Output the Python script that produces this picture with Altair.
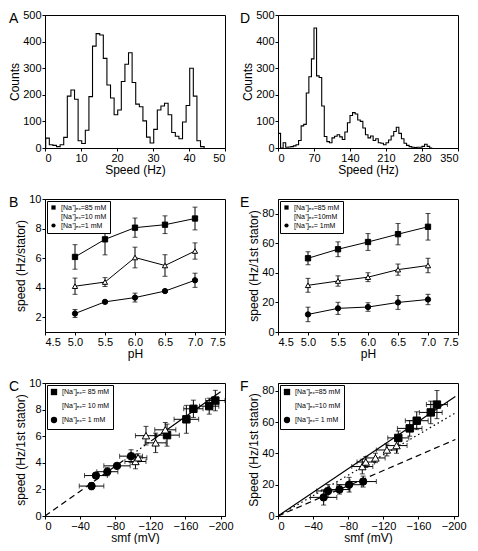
import altair as alt
import pandas as pd

FONT = "Liberation Sans"
W, H = 180, 133

# ---------------- Panel A (histogram, 1 Hz bins) ----------------
A_start = 0.2
A_width = 1.0
A_counts = [37, 12, 10, 5, 12, 40, 195, 218, 183, 27, 17, 67, 193, 383, 430, 425,
            337, 237, 188, 125, 143, 250, 315, 358, 246, 165, 155, 102, 41, 19,
            70, 143, 158, 168, 125, 58, 44, 35, 98, 160, 300, 195, 27, 5]

# ---------------- Panel D (histogram, 5 Hz bins) ----------------
D_start = 0.0
D_width = 5.0
D_counts = [55, 0, 20, 3, 4, 5, 8, 12, 28, 83, 89, 207, 268, 335, 451, 271, 265, 158,
            43, 24, 20, 38, 44, 50, 42, 32, 60, 95, 122, 133, 128, 105, 100, 75, 50,
            38, 45, 28, 35, 20, 18, 12, 20, 30, 45, 62, 78, 55, 35, 18, 10, 5, 3, 2,
            3, 3, 6, 14, 6, 0]

# ---------------- Panels B / E (speed vs pH) ----------------
pH = [5.0, 5.5, 6.0, 6.5, 7.0]
B_groups = ["[Na⁺]ₑₓ=85 mM", "[Na⁺]ₑₓ=10 mM", "[Na⁺]ₑₓ=1 mM"]
B_85 = [6.08, 7.27, 8.06, 8.26, 8.68]
B_85_err = [0.83, 1.05, 0.65, 0.60, 0.77]
B_10 = [4.10, 4.38, 6.04, 5.50, 6.48]
B_10_err = [0.55, 0.30, 0.70, 0.73, 0.55]
B_1 = [2.25, 3.04, 3.33, 3.77, 4.50]
B_1_err = [0.27, 0.08, 0.30, 0.08, 0.48]

E_groups = ["[Na⁺]ₑₓ=85 mM", "[Na⁺]ₑₓ=10mM", "[Na⁺]ₑₓ= 1mM"]
E_85 = [49.9, 56.0, 60.9, 66.2, 71.2]
E_85_err = [4.4, 5.0, 5.7, 7.2, 9.0]
E_10 = [31.6, 34.5, 37.1, 42.2, 45.0]
E_10_err = [4.7, 3.5, 3.0, 3.8, 4.9]
E_1 = [11.9, 16.0, 16.9, 20.0, 22.0]
E_1_err = [4.9, 4.1, 2.9, 4.7, 3.5]

# ---------------- Panels C / F (speed vs smf) ----------------
C_groups = ["[Na⁺]ₑₓ= 85 mM", "[Na⁺]ₑₓ= 10 mM", "[Na⁺]ₑₓ=  1 mM"]
C_smf_85 = [-139, -161, -169, -187, -194]
C_smf_85_err = [14, 14, 11, 11, 11]
C_smf_10 = [-103, -106, -115, -126, -137]
C_smf_10_err = [12, 10, 12, 12, 12]
C_smf_1 = [-53, -58, -71, -82, -98]
C_smf_1_err = [14, 13, 12, 15, 13]
C_fit_dash_x = [0, -100]
C_fit_dash_y = [0, 4.67]
C_fit_dot_x = [-100, -122]
C_fit_dot_y = [4.67, 5.70]
C_fit_solid_x = [-122, -200]
C_fit_solid_y = [5.70, 9.34]

F_groups = ["[Na⁺]ₑₓ=85 mM", "[Na⁺]ₑₓ=10 mM", "[Na⁺]ₑₓ=  1 mM"]
F_smf_85 = [-137, -150, -158, -174, -181]
F_smf_85_err = [12, 14, 13, 13, 12]
F_smf_10 = [-96, -100, -111, -124, -135]
F_smf_10_err = [12, 10, 11, 12, 12]
F_smf_1 = [-52, -57, -70, -81, -97]
F_smf_1_err = [15, 13, 12, 14, 15]
F_fit_solid_x = [0, -202]
F_fit_solid_y = [0, 76.3]
F_fit_dot_x = [0, -202]
F_fit_dot_y = [0, 65.8]
F_fit_dash_x = [0, -202]
F_fit_dash_y = [0, 48.9]

SHAPES = ["square", "triangle-up", "circle"]
FILLS = ["black", "white", "black"]


def letter_mark(ch, dx, dy=-3):
    return alt.Chart(pd.DataFrame({"t": [ch]})).mark_text(
        align="left", baseline="top", fontSize=14, font=FONT, color="black"
    ).encode(text="t:N", x=alt.value(dx), y=alt.value(dy))


def hist_panel(start, width, counts, letter, lx, xdom, xvals):
    xs = [start]
    ys = [0]
    for i, c in enumerate(counts):
        xs.append(start + i * width)
        ys.append(c)
    xs.append(start + len(counts) * width)
    ys.append(0)
    df = pd.DataFrame({"speed": xs, "counts": ys, "order": list(range(len(xs)))})
    line = alt.Chart(df).mark_line(
        interpolate="step-after", color="black", strokeWidth=1.1, clip=True
    ).encode(
        x=alt.X("speed:Q", scale=alt.Scale(domain=xdom, nice=False, zero=False),
                axis=alt.Axis(values=xvals), title="Speed (Hz)"),
        y=alt.Y("counts:Q", scale=alt.Scale(domain=[0, 500], nice=False),
                axis=alt.Axis(values=[0, 100, 200, 300, 400, 500]), title="Counts"),
        order="order:Q",
    )
    return alt.layer(line, letter_mark(letter, lx)).properties(width=W, height=H)


def make_df(groups, xs_list, ys_list, yerr_list, xerr_list=None):
    rows = []
    for gi, g in enumerate(groups):
        for i in range(len(xs_list[gi])):
            x = xs_list[gi][i]
            y = ys_list[gi][i]
            e = yerr_list[gi][i]
            xe = xerr_list[gi][i] if xerr_list is not None else 0
            rows.append(dict(g=g, x=x, y=y, ylo=y - e, yhi=y + e, xlo=x - xe, xhi=x + xe))
    return pd.DataFrame(rows)


def xy_panel(df, groups, letter, lx, xdom, xvals, xtitle, xfmt, ydom, yvals, ytitle,
             msize, legsym, legfont, legrow, connect, xerr, fits):
    xscale = alt.Scale(domain=xdom, nice=False, zero=False)
    yscale = alt.Scale(domain=ydom, nice=False, zero=False)
    xax_kw = dict(values=xvals)
    if xfmt:
        xax_kw["format"] = xfmt
    xax = alt.Axis(**xax_kw)
    yax = alt.Axis(values=yvals)

    def X(f):
        return alt.X(f, type="quantitative", scale=xscale, axis=xax, title=xtitle)

    def Y(f):
        return alt.Y(f, type="quantitative", scale=yscale, axis=yax, title=ytitle)

    base = alt.Chart(df)
    layers = []
    for fx, fy, dash in fits:
        fdf = pd.DataFrame({"x": fx, "y": fy})
        kw = dict(color="black", strokeWidth=1.2, clip=True)
        if dash:
            kw["strokeDash"] = dash
        layers.append(alt.Chart(fdf).mark_line(**kw).encode(x=X("x"), y=Y("y")))
    layers.append(base.mark_rule(color="black", strokeWidth=1).encode(
        x=X("x"), y=Y("ylo"), y2="yhi"))
    layers.append(base.mark_tick(orient="horizontal", size=5, thickness=1, color="black").encode(
        x=X("x"), y=Y("ylo")))
    layers.append(base.mark_tick(orient="horizontal", size=5, thickness=1, color="black").encode(
        x=X("x"), y=Y("yhi")))
    if xerr:
        layers.append(base.mark_rule(color="black", strokeWidth=1).encode(
            x=X("xlo"), x2="xhi", y=Y("y")))
        layers.append(base.mark_tick(orient="vertical", size=5, thickness=1, color="black").encode(
            x=X("xlo"), y=Y("y")))
        layers.append(base.mark_tick(orient="vertical", size=5, thickness=1, color="black").encode(
            x=X("xhi"), y=Y("y")))
    if connect:
        layers.append(base.mark_line(color="black", strokeWidth=1).encode(
            x=X("x"), y=Y("y"), detail="g:N"))
    leg = alt.Legend(title=None, orient="top-left", offset=2, padding=3,
                     strokeColor="black", fillColor="white", labelFontSize=legfont,
                     labelFont=FONT, symbolSize=legsym, rowPadding=legrow,
                     symbolStrokeColor="black", symbolStrokeWidth=1, labelColor="black")
    layers.append(base.mark_point(filled=True, stroke="black", strokeWidth=1,
                                  size=msize, opacity=1).encode(
        x=X("x"), y=Y("y"),
        shape=alt.Shape("g:N", scale=alt.Scale(domain=groups, range=SHAPES), legend=leg),
        fill=alt.Fill("g:N", scale=alt.Scale(domain=groups, range=FILLS), legend=leg),
    ))
    layers.append(letter_mark(letter, lx))
    return alt.layer(*layers).properties(width=W, height=H)


A = hist_panel(A_start, A_width, A_counts, "A", -36, [0, 50], [0, 10, 20, 30, 40, 50])
D = hist_panel(D_start, D_width, D_counts, "D", -38, [0, 350], [0, 70, 140, 210, 280, 350])

dfB = make_df(B_groups, [pH, pH, pH], [B_85, B_10, B_1], [B_85_err, B_10_err, B_1_err])
B = xy_panel(dfB, B_groups, "B", -36, [4.5, 7.5], [4.5, 5.0, 5.5, 6.0, 6.5, 7.0, 7.5], "pH", ".1f",
             [1, 10], [2, 4, 6, 8, 10], "speed (Hz/stator)", 28, 18, 7, 0, True, False, [])

dfE = make_df(E_groups, [pH, pH, pH], [E_85, E_10, E_1], [E_85_err, E_10_err, E_1_err])
E = xy_panel(dfE, E_groups, "E", -38, [4.5, 7.5], [4.5, 5.0, 5.5, 6.0, 6.5, 7.0, 7.5], "pH", ".1f",
             [0, 90], [0, 20, 40, 60, 80], "speed (Hz/1st stator)", 28, 18, 7, 0, True, False, [])

dfC = make_df(C_groups, [C_smf_85, C_smf_10, C_smf_1], [B_85, B_10, B_1],
              [B_85_err, B_10_err, B_1_err], [C_smf_85_err, C_smf_10_err, C_smf_1_err])
C = xy_panel(dfC, C_groups, "C", -36, [0, -205], [0, -40, -80, -120, -160, -200], "smf (mV)", "",
             [0, 10], [0, 2, 4, 6, 8, 10], "speed (Hz/1st stator)", 55, 40, 7, 3, False, True,
             [(C_fit_dash_x, C_fit_dash_y, [6, 4]), (C_fit_dot_x, C_fit_dot_y, [1.5, 3]),
              (C_fit_solid_x, C_fit_solid_y, None)])

dfF = make_df(F_groups, [F_smf_85, F_smf_10, F_smf_1], [E_85, E_10, E_1],
              [E_85_err, E_10_err, E_1_err], [F_smf_85_err, F_smf_10_err, F_smf_1_err])
F = xy_panel(dfF, F_groups, "F", -38, [0, -205], [0, -40, -80, -120, -160, -200], "smf (mV)", "",
             [0, 85], [0, 20, 40, 60, 80], "Speed (Hz/1st stator)", 55, 40, 7, 3, False, True,
             [(F_fit_solid_x, F_fit_solid_y, None), (F_fit_dot_x, F_fit_dot_y, [1.5, 3]),
              (F_fit_dash_x, F_fit_dash_y, [6, 4])])

chart = alt.concat(A, D, B, E, C, F, columns=2, spacing={"row": 16, "column": 5}).resolve_scale(
    x="independent", y="independent", shape="independent", fill="independent"
).resolve_legend(shape="independent", fill="independent").properties(
    padding={"left": 0, "top": 0, "right": 0, "bottom": 0}
).configure(font=FONT).configure_view(
    stroke="black", strokeWidth=1
).configure_axis(
    grid=False, domainColor="black", tickColor="black", labelColor="black", titleColor="black",
    labelFont=FONT, titleFont=FONT, labelFontSize=11, titleFontSize=12, titleFontWeight="normal",
    tickSize=3, labelPadding=1, titlePadding=1
)

chart.save("out.html", embed_options={"renderer": "svg", "actions": False})
